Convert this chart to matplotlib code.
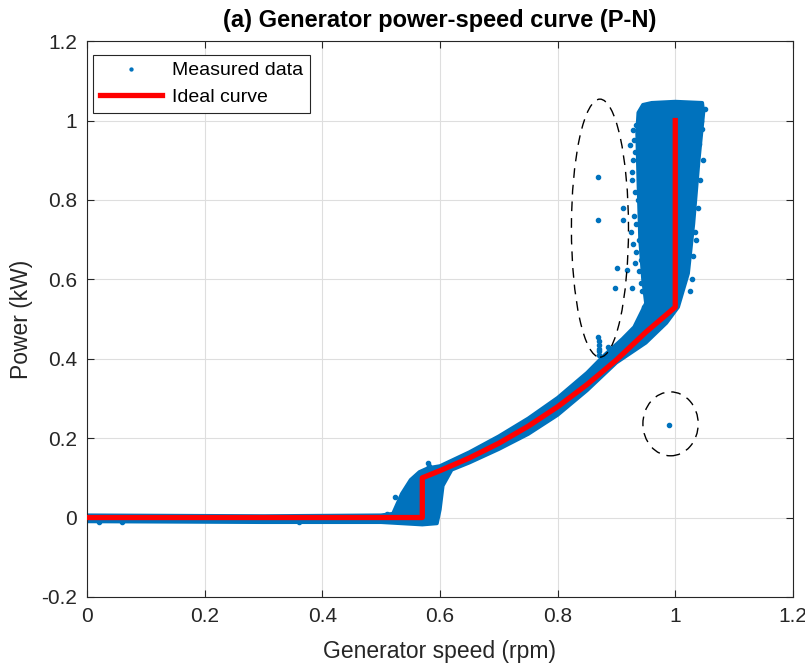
import numpy as np
import matplotlib.pyplot as plt
from matplotlib.patches import Ellipse

plt.rcParams['font.family'] = ['Liberation Sans', 'DejaVu Sans']

# dense cloud of measured points, outline (speed, power)
cloud_upper_x = [0.0, 0.3, 0.5, 0.52, 0.535, 0.55, 0.565, 0.58, 0.6, 0.65, 0.7, 0.75, 0.8,
                 0.85, 0.88, 0.91, 0.93, 0.95, 0.945, 0.94, 0.937, 0.935, 0.937, 0.945, 0.96, 1.0, 1.046]
cloud_upper_y = [0.006, 0.004, 0.006, 0.01, 0.06, 0.095, 0.115, 0.125, 0.13, 0.165, 0.205, 0.25, 0.302,
                 0.365, 0.41, 0.45, 0.48, 0.54, 0.6, 0.7, 0.85, 0.97, 1.02, 1.04, 1.045, 1.048, 1.045]
cloud_lower_x = [1.048, 1.04, 1.031, 1.022, 1.005, 0.985, 0.95, 0.9, 0.85, 0.8, 0.75, 0.7,
                 0.65, 0.62, 0.605, 0.6, 0.595, 0.57, 0.5, 0.3, 0.0]
cloud_lower_y = [1.02, 0.9, 0.74, 0.615, 0.53, 0.49, 0.44, 0.39, 0.32, 0.258, 0.21, 0.172,
                 0.138, 0.12, 0.08, 0.02, -0.015, -0.018, -0.012, -0.012, -0.01]

# sparse measured points outside the dense cloud
pts_x = [0.869, 0.869, 0.869, 0.870, 0.870, 0.870, 0.870, 0.912, 0.912, 0.901, 0.898, 0.918,
         0.923, 0.927, 0.927, 0.930, 0.928, 0.932, 0.925, 0.934, 0.938, 0.930, 0.942,
         0.933, 0.929, 0.931, 0.927, 0.936, 0.933, 0.939, 0.941, 0.928, 0.932, 0.944, 0.947,
         1.045, 1.042, 1.038, 1.036, 1.030, 1.050, 1.040, 1.034, 1.047, 1.044, 1.028, 1.025,
         0.99, 0.524, 0.58, 0.582, 0.51, 0.02, 0.06, 0.36, 0.885, 0.87]
pts_y = [0.858, 0.749, 0.455, 0.445, 0.435, 0.425, 0.42, 0.78, 0.749, 0.628, 0.578, 0.623,
         0.938, 0.87, 0.578, 0.95, 0.9, 0.82, 0.72, 0.67, 0.62, 0.76, 0.59,
         0.99, 0.975, 0.92, 0.85, 0.8, 0.74, 0.7, 0.65, 0.69, 0.64, 0.57, 0.53,
         0.98, 0.85, 0.78, 0.7, 0.66, 1.03, 0.94, 0.72, 0.9, 1.0, 0.6, 0.57,
         0.234, 0.052, 0.137, 0.13, 0.008, -0.012, -0.011, -0.011, 0.43, 0.41]

# ideal power-speed curve
ideal_x = [0.0, 0.57, 0.57, 0.6, 0.65, 0.7, 0.75, 0.8, 0.85, 0.9, 0.95, 1.0, 1.0]
ideal_y = [0.0, 0.0, 0.10, 0.118, 0.15, 0.187, 0.23, 0.279, 0.335, 0.397, 0.467, 0.53, 1.0]

xticks = [0, 0.2, 0.4, 0.6, 0.8, 1.0, 1.2]
xtick_labels = ['0', '0.2', '0.4', '0.6', '0.8', '1', '1.2']
yticks = [-0.2, 0, 0.2, 0.4, 0.6, 0.8, 1.0, 1.2]
ytick_labels = ['-0.2', '0', '0.2', '0.4', '0.6', '0.8', '1', '1.2']

blue = '#0072BD'
txt = '#262626'
fig = plt.figure(figsize=(8.05, 6.64), dpi=100)
ax = fig.add_axes([0.108, 0.101, 0.877, 0.837])

ax.fill(cloud_upper_x + cloud_lower_x, cloud_upper_y + cloud_lower_y,
        facecolor=blue, edgecolor=blue, linewidth=2.5, joinstyle='round', zorder=2)
ax.plot(pts_x, pts_y, '.', color=blue, ms=6, zorder=2, label='Measured data')
ax.plot(ideal_x, ideal_y, '-', color='red', lw=3.8, zorder=3, label='Ideal curve')

# outlier ellipses
for cx, cy, w, h in [(0.872, 0.729, 0.097, 0.65), (0.992, 0.236, 0.094, 0.161)]:
    ax.add_patch(Ellipse((cx, cy), w, h, fill=False, edgecolor='black',
                         linestyle=(0, (7, 5)), lw=1.0, zorder=4))

ax.set_xlim(0, 1.2)
ax.set_ylim(-0.2, 1.2)
ax.set_xticks(xticks, xtick_labels)
ax.set_yticks(yticks, ytick_labels)
ax.tick_params(direction='in', top=True, right=True, labelsize=15, colors=txt, length=5, pad=7)
ax.grid(True, color='#dedede', lw=0.8)
ax.set_axisbelow(True)
for s in ax.spines.values():
    s.set_color(txt)
    s.set_linewidth(0.8)

ax.set_xlabel('Generator speed (rpm)', fontsize=16.5, color=txt, labelpad=10)
ax.set_ylabel('Power (kW)', fontsize=16.5, color=txt, labelpad=6)
ax.set_title('(a) Generator power-speed curve (P-N)', fontsize=17, fontweight='bold', pad=10)

leg = ax.legend(loc='upper left', bbox_to_anchor=(0.0085, 0.975), fontsize=14, fancybox=False,
                edgecolor=txt, framealpha=1, handlelength=3.2, handletextpad=0.5, borderaxespad=0,
                borderpad=0.35, labelspacing=0.45, markerscale=0.7)
leg.get_frame().set_linewidth(0.8)

fig.savefig('out.png', dpi=100)
